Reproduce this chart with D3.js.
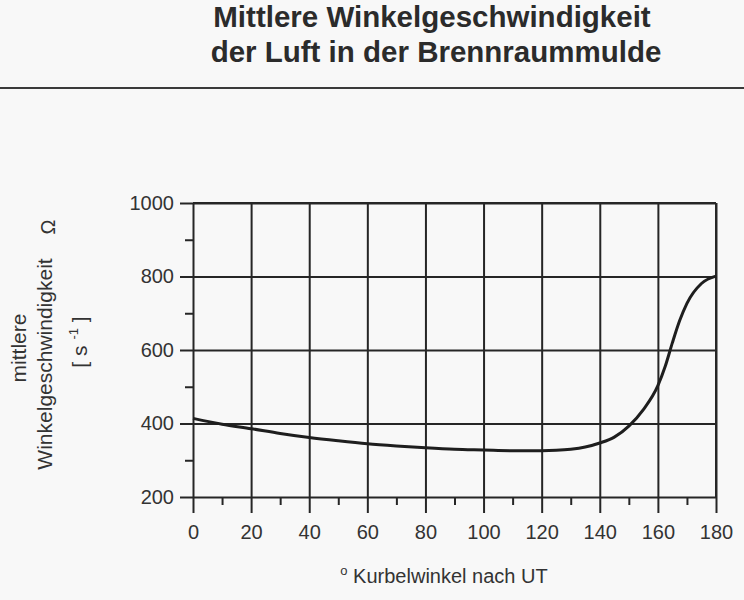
<!DOCTYPE html>
<html>
<head>
<meta charset="utf-8">
<script src="https://cdn.jsdelivr.net/npm/d3@7"></script>
<style>
  html, body { margin: 0; padding: 0; background: #f8f8f8; }
  svg { display: block; }
  text { font-family: "Liberation Sans", Arial, sans-serif; }
</style>
</head>
<body>
<svg id="chart" width="744" height="600"></svg>
<script>
// ---- data ----
const titleLines = ["Mittlere Winkelgeschwindigkeit", "der Luft in der Brennraummulde"];
const xTickValues = [0, 20, 40, 60, 80, 100, 120, 140, 160, 180];
const xMinorTicks = [10, 30, 50, 70, 90, 110, 130, 150, 170];
const yTickValues = [200, 400, 600, 800, 1000];
const yMinorTicks = [300, 500, 700, 900];
const angle = [0, 10, 20, 30, 40, 50, 60, 70, 80, 90, 100, 110, 120, 125, 130, 135, 140, 145, 150, 155, 160, 162.5, 165, 167.5, 170, 175, 180];
const omega = [414, 398, 386, 373, 362, 353, 345, 339, 334, 330, 328, 326, 326, 327, 330, 336, 347, 363, 393, 438, 503, 555, 620, 680, 727, 781, 801];
const xLabel = "Kurbelwinkel nach UT";
const yLabel1 = "mittlere";
const yLabel2 = "Winkelgeschwindigkeit";
const yLabelSymbol = "Ω";

// ---- layout ----
const svg = d3.select("#chart");
const ink = "#262626";
const pLeft = 193, pRight = 716, pTop = 203, pBottom = 497;

const x = d3.scaleLinear().domain([0, 180]).range([pLeft, pRight]);
const y = d3.scaleLinear().domain([200, 1000]).range([pBottom, pTop]);

// title
svg.selectAll("text.title").data(titleLines).enter().append("text")
  .attr("class", "title")
  .attr("x", (d, i) => i === 0 ? 432 : 436)
  .attr("y", (d, i) => 27 + i * 35)
  .attr("text-anchor", "middle")
  .attr("font-size", "29.5px")
  .attr("font-weight", "bold")
  .attr("fill", "#2b2b2b")
  .text(d => d);

// rule under title
svg.append("line")
  .attr("x1", 0).attr("x2", 744).attr("y1", 88).attr("y2", 88)
  .attr("stroke", "#3a3a3a").attr("stroke-width", 2);

// grid (vertical)
svg.append("g")
  .attr("transform", `translate(0,${pBottom})`)
  .call(d3.axisBottom(x).tickValues(xTickValues.slice(1)).tickSize(-(pBottom - pTop)).tickFormat(""))
  .call(g => g.select(".domain").remove())
  .call(g => g.selectAll("line").attr("stroke", ink).attr("stroke-width", 2));

// grid (horizontal)
svg.append("g")
  .attr("transform", `translate(${pLeft},0)`)
  .call(d3.axisLeft(y).tickValues(yTickValues.slice(1)).tickSize(-(pRight - pLeft)).tickFormat(""))
  .call(g => g.select(".domain").remove())
  .call(g => g.selectAll("line").attr("stroke", ink).attr("stroke-width", 2));

// x axis: minor ticks
svg.append("g")
  .attr("transform", `translate(0,${pBottom})`)
  .call(d3.axisBottom(x).tickValues(xMinorTicks).tickSize(8).tickFormat(""))
  .call(g => g.select(".domain").remove())
  .call(g => g.selectAll("line").attr("stroke", ink).attr("stroke-width", 2));

// x axis: major ticks and labels
svg.append("g")
  .attr("transform", `translate(0,${pBottom})`)
  .call(d3.axisBottom(x).tickValues(xTickValues).tickSize(16).tickPadding(12).tickSizeOuter(0).tickFormat(d3.format("d")))
  .call(g => g.select(".domain").attr("stroke", ink).attr("stroke-width", 2))
  .call(g => g.selectAll("line").attr("stroke", ink).attr("stroke-width", 2))
  .call(g => g.selectAll("text").attr("font-size", "20px").attr("fill", "#333")
    .attr("font-family", "'Liberation Sans', Arial, sans-serif"));

// y axis: minor ticks
svg.append("g")
  .attr("transform", `translate(${pLeft},0)`)
  .call(d3.axisLeft(y).tickValues(yMinorTicks).tickSize(8).tickFormat(""))
  .call(g => g.select(".domain").remove())
  .call(g => g.selectAll("line").attr("stroke", ink).attr("stroke-width", 2));

// y axis: major ticks and labels
svg.append("g")
  .attr("transform", `translate(${pLeft},0)`)
  .call(d3.axisLeft(y).tickValues(yTickValues).tickSize(13).tickPadding(6).tickSizeOuter(0).tickFormat(d3.format("d")))
  .call(g => g.select(".domain").attr("stroke", ink).attr("stroke-width", 2))
  .call(g => g.selectAll("line").attr("stroke", ink).attr("stroke-width", 2))
  .call(g => g.selectAll("text").attr("font-size", "20px").attr("fill", "#333")
    .attr("font-family", "'Liberation Sans', Arial, sans-serif"));

// frame: top and right borders
svg.append("line").attr("x1", pLeft).attr("x2", pRight).attr("y1", pTop).attr("y2", pTop)
  .attr("stroke", ink).attr("stroke-width", 2);
svg.append("line").attr("x1", pRight).attr("x2", pRight).attr("y1", pTop).attr("y2", pBottom)
  .attr("stroke", ink).attr("stroke-width", 2);

// curve
const pts = angle.map((a, i) => [a, omega[i]]);
svg.append("path")
  .datum(pts)
  .attr("fill", "none")
  .attr("stroke", "#1e1e1e")
  .attr("stroke-width", 3)
  .attr("stroke-linejoin", "round")
  .attr("d", d3.line().x(d => x(d[0])).y(d => y(d[1])).curve(d3.curveMonotoneX));

// x axis title
const xt = svg.append("text")
  .attr("x", 444).attr("y", 583)
  .attr("text-anchor", "middle")
  .attr("font-size", "20px")
  .attr("fill", "#333");
xt.append("tspan").attr("font-size", "13px").attr("dy", "-8").text("o");
xt.append("tspan").attr("dy", "8").text(" " + xLabel);

// y axis titles (rotated)
svg.append("text")
  .attr("transform", "translate(26,348) rotate(-90)")
  .attr("text-anchor", "middle")
  .attr("font-size", "21px").attr("fill", "#333")
  .text(yLabel1);
svg.append("text")
  .attr("transform", "translate(52,364) rotate(-90)")
  .attr("text-anchor", "middle")
  .attr("font-size", "21px").attr("fill", "#333")
  .text(yLabel2);
svg.append("text")
  .attr("transform", "translate(55,227) rotate(-90)")
  .attr("text-anchor", "middle")
  .attr("font-size", "20px").attr("fill", "#333")
  .text(yLabelSymbol);
const unit = svg.append("text")
  .attr("transform", "translate(87,342) rotate(-90)")
  .attr("text-anchor", "middle")
  .attr("font-size", "21px").attr("fill", "#333");
unit.append("tspan").text("[ s ");
unit.append("tspan").attr("font-size", "13px").attr("dy", "-9").text("-1");
unit.append("tspan").attr("dy", "9").text(" ]");
</script>
</body>
</html>
